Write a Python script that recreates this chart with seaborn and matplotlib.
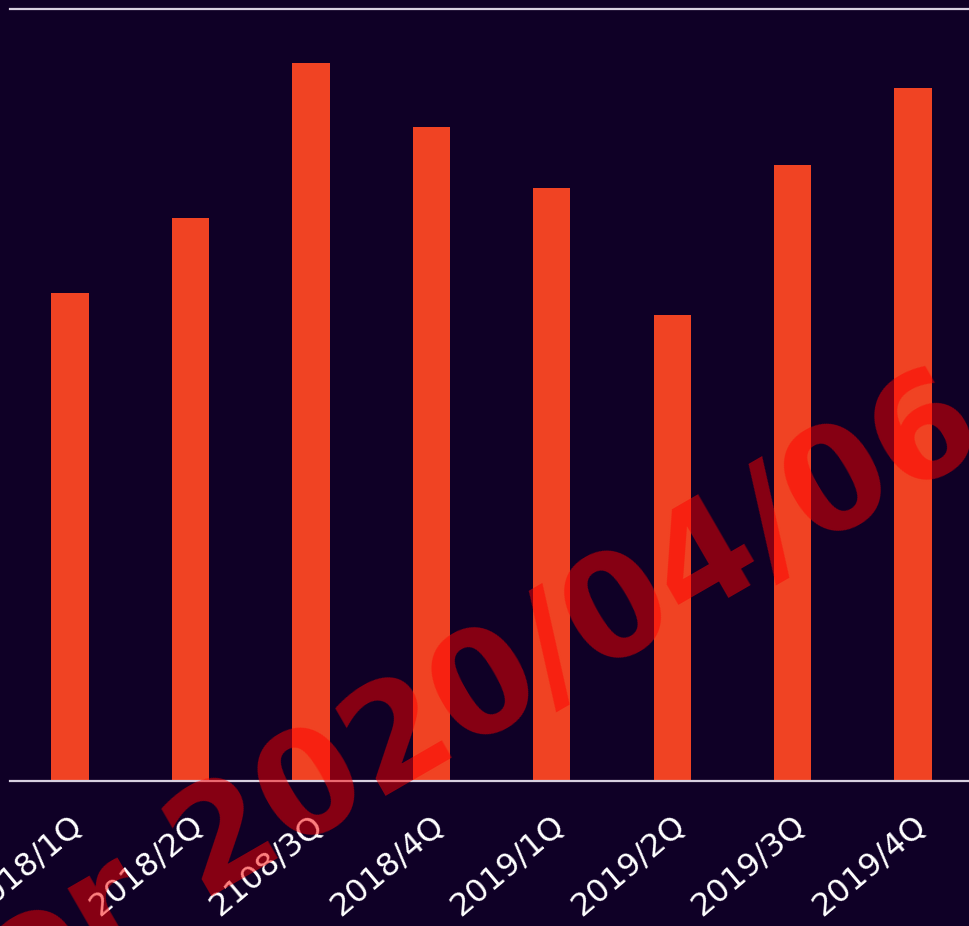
import matplotlib
matplotlib.use('Agg')

import seaborn as sns
import pandas as pd
from matplotlib import pyplot as plt
from matplotlib.transforms import ScaledTranslation

quarters = ['2018/1Q', '2018/2Q', '2108/3Q', '2018/4Q',
            '2019/1Q', '2019/2Q', '2019/3Q', '2019/4Q']
values = [63.2, 72.9, 93.0, 84.7, 76.8, 60.4, 79.8, 89.8]
watermark = 'for 2020/04/06'

bg = '#0f0026'
bar_color = '#f04323'

sns.set_style('dark')
plt.rcParams['font.family'] = ['DejaVu Sans']

df = pd.DataFrame({'quarter': quarters, 'value': values})

fig = plt.figure(figsize=(9.69, 9.26), dpi=100)
fig.patch.set_facecolor(bg)
ax = fig.add_axes([0.0101, 0.1566, 0.9944, 0.8337])
ax.set_facecolor(bg)

sns.barplot(data=df, x='quarter', y='value', color=bar_color, width=0.31,
            saturation=1, linewidth=0, ax=ax)

ax.set_xlim(-0.5, len(quarters) - 0.5)
ax.set_ylim(0, 100)
ax.set_xlabel('')
ax.set_ylabel('')
ax.set_yticks([])
ax.grid(False)
for side in ['left', 'right']:
    ax.spines[side].set_visible(False)
for side in ['top', 'bottom']:
    ax.spines[side].set_visible(True)
    ax.spines[side].set_color('#d8d0e0')
    ax.spines[side].set_linewidth(1.6)

ax.tick_params(axis='x', length=0, pad=29, colors='white', labelsize=23)
shift = ScaledTranslation(9 / 100, 0, fig.dpi_scale_trans)
for lab in ax.get_xticklabels():
    lab.set_rotation(40)
    lab.set_ha('right')
    lab.set_va('center')
    lab.set_rotation_mode('anchor')
    lab.set_transform(lab.get_transform() + shift)

# watermark over everything
fig.text(0.4675, 0.232, watermark, rotation=30, fontsize=104,
         fontweight='bold', color='red', alpha=0.5, ha='center',
         va='center', rotation_mode='anchor', zorder=10)

plt.savefig('out.png', dpi=100, facecolor=bg)
